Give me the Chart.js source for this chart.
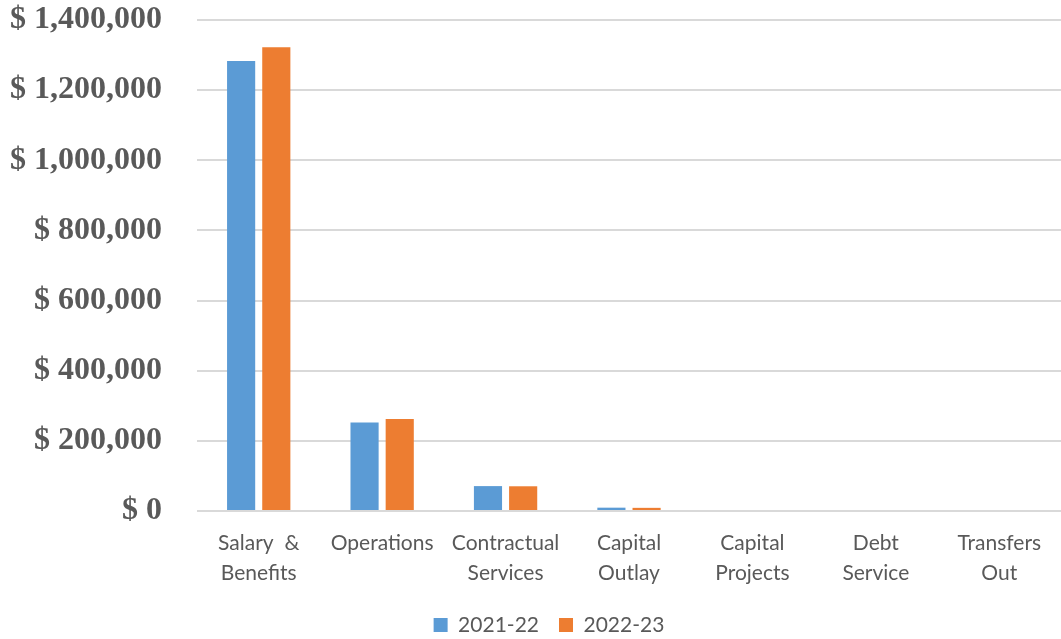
<!DOCTYPE html>
<html>
<head>
<meta charset="utf-8">
<script src="https://cdn.jsdelivr.net/npm/chart.js@4"></script>
<style>
  html, body { margin: 0; padding: 0; background: #fff; }
  #wrap { width: 1061px; height: 639px; }
</style>
</head>
<body>
<div id="wrap"><canvas id="budgetChart"></canvas></div>
<script>
// expenditure categories and yearly totals
let categories = [["Salary  &", "Benefits"], "Operations", ["Contractual", "Services"], ["Capital", "Outlay"], ["Capital", "Projects"], ["Debt", "Service"], ["Transfers", "Out"]];
let years = ["2021-22", "2022-23"];
let amounts2122 = [1283000, 252000, 71000, 9500, 0, 0, 0];
let amounts2223 = [1322000, 262000, 70500, 9000, 0, 0, 0];
let yMax = 1400000;
let yStep = 200000;

let textGray = "#595959";
let legendPad = 20;
let zeroLineY = 511;

// move the legend a bit lower and to the right of the canvas centre
let legendNudge = {
    id: "legendNudge",
    afterLayout: function(chart) {
        let lg = chart.legend;
        let h = lg.height;
        lg.top = 618 - 3.5 - legendPad;
        lg.bottom = lg.top + h;
        lg.left += 37;
    }
};

let budgetChart = new Chart(document.getElementById("budgetChart"), {
    type: "bar",
    data: {
        labels: categories,
        datasets: [{
            label: years[0],
            data: amounts2122,
            backgroundColor: "#5B9BD5"
        }, {
            label: years[1],
            data: amounts2223,
            backgroundColor: "#ED7D31"
        }]
    },
    plugins: [legendNudge],
    options: {
        responsive: true,
        maintainAspectRatio: false,
        animation: false,
        datasets: {
            bar: { categoryPercentage: 0.57, barPercentage: 0.8 }
        },
        layout: { padding: 0 },
        plugins: {
            tooltip: { enabled: false },
            legend: {
                position: "bottom",
                labels: {
                    boxWidth: 14,
                    boxHeight: 14,
                    padding: legendPad,
                    color: textGray,
                    font: { family: "Lato", size: 21 }
                }
            }
        },
        scales: {
            x: {
                grid: { display: false },
                border: { display: false },
                ticks: {
                    color: textGray,
                    maxRotation: 0,
                    autoSkip: false,
                    padding: 9,
                    font: { family: "Lato", size: 21, lineHeight: 1.43 }
                },
                afterFit: function(scale) {
                    scale.height = scale.chart.height - zeroLineY - scale.chart.legend.height;
                }
            },
            y: {
                min: 0,
                max: yMax,
                grid: { color: "#d9d9d9", lineWidth: 2, drawTicks: false },
                border: { display: false },
                ticks: {
                    stepSize: yStep,
                    color: textGray,
                    padding: 35,
                    font: { family: "Liberation Serif", size: 32, weight: "bold" },
                    callback: function(value) { return "$ " + value.toLocaleString("en-US"); }
                },
                afterFit: function(scale) {
                    // keep the label gap without pushing the plot down
                    scale.width = 197;
                    scale.paddingTop = 20;
                    scale.paddingBottom = 16;
                }
            }
        }
    }
});
</script>
</body>
</html>
